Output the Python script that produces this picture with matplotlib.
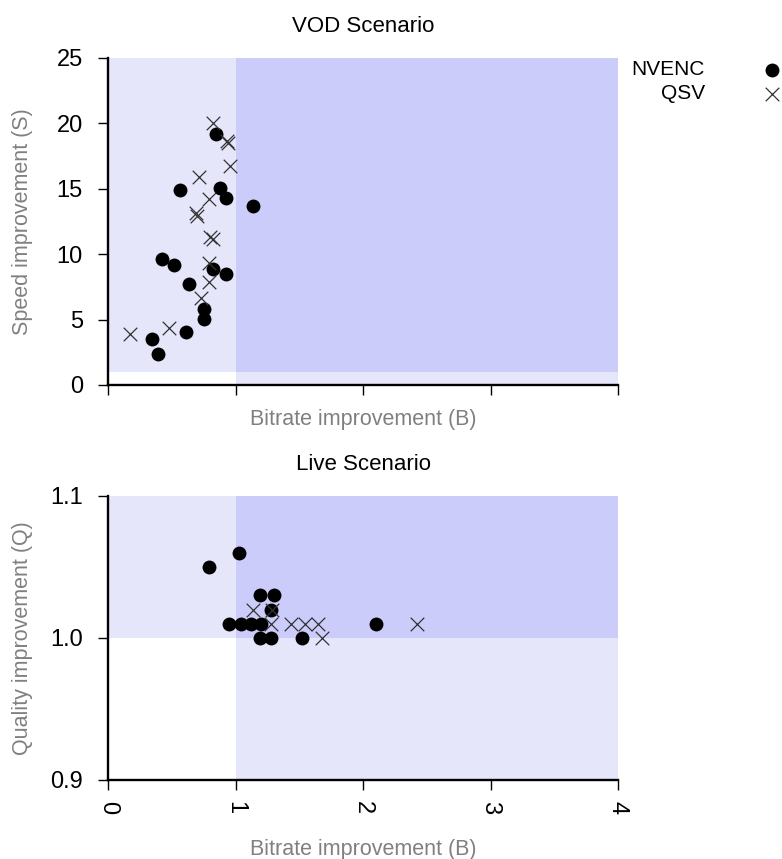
import matplotlib
matplotlib.use("Agg")
import matplotlib.pyplot as plt

plt.rcParams["font.family"] = ["Liberation Sans", "DejaVu Sans"]

# VOD scenario: bitrate improvement (B) vs speed improvement (S)
vod_nvenc_b = [0.845, 0.565, 0.878, 0.925, 1.135, 0.426, 0.515, 0.826, 0.925, 0.635, 0.756, 0.756, 0.612, 0.345, 0.395]
vod_nvenc_s = [19.17, 14.88, 15.04, 14.27, 13.68, 9.61, 9.20, 8.89, 8.49, 7.72, 5.78, 5.02, 4.03, 3.54, 2.34]
vod_qsv_b = [0.826, 0.930, 0.942, 0.960, 0.716, 0.795, 0.690, 0.700, 0.800, 0.821, 0.795, 0.795, 0.727, 0.476, 0.175]
vod_qsv_s = [20.0, 18.62, 18.48, 16.74, 15.87, 14.25, 13.17, 12.92, 11.29, 11.14, 9.30, 7.90, 6.63, 4.33, 3.87]

# Live scenario: bitrate improvement (B) vs quality improvement (Q)
live_nvenc_b = [0.79, 1.03, 1.19, 1.30, 1.28, 0.95, 1.04, 1.12, 1.20, 2.10, 1.19, 1.28, 1.52]
live_nvenc_q = [1.05, 1.06, 1.03, 1.03, 1.02, 1.01, 1.01, 1.01, 1.01, 1.01, 1.00, 1.00, 1.00]
live_qsv_b = [1.14, 1.29, 1.28, 1.435, 1.545, 1.65, 2.42, 1.68]
live_qsv_q = [1.02, 1.02, 1.01, 1.01, 1.01, 1.01, 1.01, 1.00]

x_ticks = [0, 1, 2, 3, 4]
vod_yticks = [0, 5, 10, 15, 20, 25]
live_yticks = [0.9, 1.0, 1.1]

light = "#e6e6fb"
dark = "#ccccfa"
grey = "#808080"

fig = plt.figure(figsize=(7.82, 8.59), dpi=100)
W, H = 782, 859
ax1 = fig.add_axes([108 / W, 1 - 385 / H, 510 / W, 327 / H])
ax2 = fig.add_axes([108 / W, 1 - 780 / H, 510 / W, 284 / H])


def shade(ax, ylo, yhi, base):
    ax.fill_between([0, 1], base, yhi, color=light, lw=0, zorder=0)
    ax.fill_between([1, 4], base, yhi, color=dark, lw=0, zorder=0)
    ax.fill_between([1, 4], ylo, base, color=light, lw=0, zorder=0)


def style(ax):
    for s in ["top", "right"]:
        ax.spines[s].set_visible(False)
    for s in ["left", "bottom"]:
        ax.spines[s].set_linewidth(1.7)
    ax.tick_params(length=7, width=1.0, direction="out", labelsize=17)
    ax.tick_params(axis="y", pad=11)
    ax.tick_params(axis="x", pad=8)
    ax.set_xlim(0, 4)
    ax.set_xticks(x_ticks)


shade(ax1, 0, 25, 1)
ax1.scatter(vod_nvenc_b, vod_nvenc_s, s=100, c="black", marker="o", lw=0, zorder=3)
ax1.scatter(vod_qsv_b, vod_qsv_s, s=95, c="#333333", marker="x", lw=0.9, zorder=3)
style(ax1)
ax1.set_ylim(0, 25)
ax1.set_yticks(vod_yticks)
ax1.set_xticklabels([])
ax1.set_xlabel("Bitrate improvement (B)", color=grey, fontsize=15.5)
ax1.xaxis.set_label_coords(0.5, -0.073)
ax1.set_ylabel("Speed improvement (S)", color=grey, fontsize=15.5)
ax1.yaxis.set_label_coords(-0.148, 0.5)
ax1.set_title("VOD Scenario", fontsize=16, pad=19)

shade(ax2, 0.9, 1.1, 1.0)
h1 = ax2.scatter(live_nvenc_b, live_nvenc_q, s=100, c="black", marker="o", lw=0, zorder=3)
h2 = ax2.scatter(live_qsv_b, live_qsv_q, s=95, c="#333333", marker="x", lw=0.9, zorder=3)
style(ax2)
ax2.set_ylim(0.9, 1.1)
ax2.set_yticks(live_yticks)
ax2.set_yticklabels([f"{v:.1f}" for v in live_yticks])
ax2.set_xticklabels([str(v) for v in x_ticks], rotation=270)
ax2.set_xlabel("Bitrate improvement (B)", color=grey, fontsize=15.5)
ax2.xaxis.set_label_coords(0.5, -0.208)
ax2.set_ylabel("Quality improvement (Q)", color=grey, fontsize=15.5)
ax2.yaxis.set_label_coords(-0.148, 0.5)
ax2.set_title("Live Scenario", fontsize=16, pad=19)

fig.legend([h1, h2], ["NVENC", "QSV"], loc="upper right", bbox_to_anchor=(1.0, 1 - 60 / H),
           markerfirst=False, frameon=False, fontsize=15, handlelength=1.0,
           handletextpad=2.7, borderpad=0, borderaxespad=0, labelspacing=0.25)

fig.savefig("out.png", dpi=100)
